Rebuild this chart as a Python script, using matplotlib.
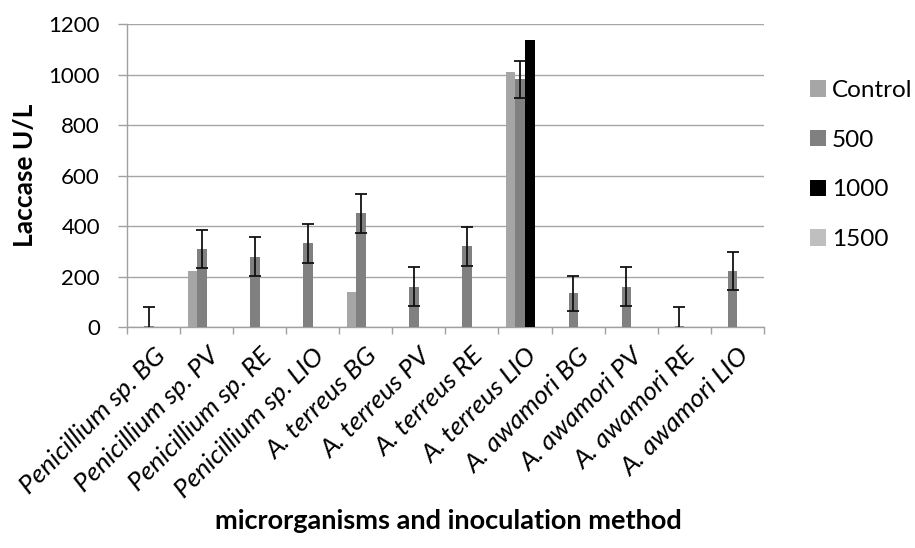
import numpy as np
import matplotlib
matplotlib.use("Agg")
import matplotlib.pyplot as plt
from matplotlib.ticker import FixedLocator

plt.rcParams['font.family'] = ['Lato', 'DejaVu Sans']

categories = ['Penicillium sp. BG', 'Penicillium sp. PV', 'Penicillium sp. RE', 'Penicillium sp. LIO',
              'A. terreus BG', 'A. terreus PV', 'A. terreus RE', 'A. terreus LIO',
              'A. awamori BG', 'A. awamori PV', 'A. awamori RE', 'A. awamori LIO']
series_names = ['Control', '500', '1000', '1500']
control = [0, 222, 0, 0, 137, 0, 0, 1009, 0, 0, 0, 0]
dose_500 = [5, 310, 278, 331, 450, 159, 320, 982, 133, 159, 4, 222]
dose_1000 = [0, 0, 0, 0, 0, 0, 0, 1137, 0, 0, 0, 0]
dose_1500 = [0, 0, 0, 0, 0, 0, 0, 0, 0, 0, 0, 0]
err_500 = [75, 76, 77, 77, 78, 77, 78, 73, 71, 77, 75, 77]

colors = ['#a6a6a6', '#808080', '#000000', '#bfbfbf']
values = [control, dose_500, dose_1000, dose_1500]

fig = plt.figure(figsize=(9.15, 5.48), dpi=100)
ax = fig.add_axes([0.1388, 0.4033, 0.696, 0.5527])

x = np.arange(len(categories))
w = 0.18
offsets = [-1.5 * w, -0.5 * w, 0.5 * w, 1.5 * w]
for vals, name, c, off in zip(values, series_names, colors, offsets):
    ax.bar(x + off, vals, w, color=c, label=name, zorder=3)

ax.errorbar(x - 0.5 * w, dose_500, yerr=err_500, fmt='none', ecolor='#111111',
            elinewidth=1.3, capsize=4.3, capthick=1.3, zorder=4)

ax.set_xlim(-0.5, len(categories) - 0.5)
ax.set_ylim(0, 1200)
ax.set_yticks(np.arange(0, 1201, 200))
ax.yaxis.grid(True, color='#a6a6a6', linewidth=1.0, zorder=0)
ax.set_axisbelow(True)

for s in ['top', 'right']:
    ax.spines[s].set_visible(False)
for s in ['left', 'bottom']:
    ax.spines[s].set_color('#a0a0a0')
    ax.spines[s].set_linewidth(1.0)

ax.set_xticks(x)
ax.set_xticklabels(categories, rotation=45, ha='right', rotation_mode='anchor',
                   fontsize=19, style='italic')
ax.xaxis.set_minor_locator(FixedLocator(np.arange(-0.5, len(categories), 1)))
ax.tick_params(axis='x', which='major', length=0, pad=12)
ax.tick_params(axis='x', which='minor', length=5, color='#a0a0a0', width=1.0)
ax.tick_params(axis='y', length=6.5, color='#a0a0a0', width=1.0, labelsize=16, pad=13)

ax.set_ylabel('Laccase U/L', fontsize=19, fontweight='bold', labelpad=8)
fig.text(0.49, 0.05, 'microrganisms and inoculation method', ha='center',
         va='center', fontsize=19.5, fontweight='bold')

ax.legend(loc='upper left', bbox_to_anchor=(1.057, 0.848), frameon=False,
          fontsize=17.5, labelspacing=1.18, handlelength=0.66, handleheight=0.66,
          handletextpad=0.25, borderaxespad=0)

fig.savefig('out.png', dpi=100)
